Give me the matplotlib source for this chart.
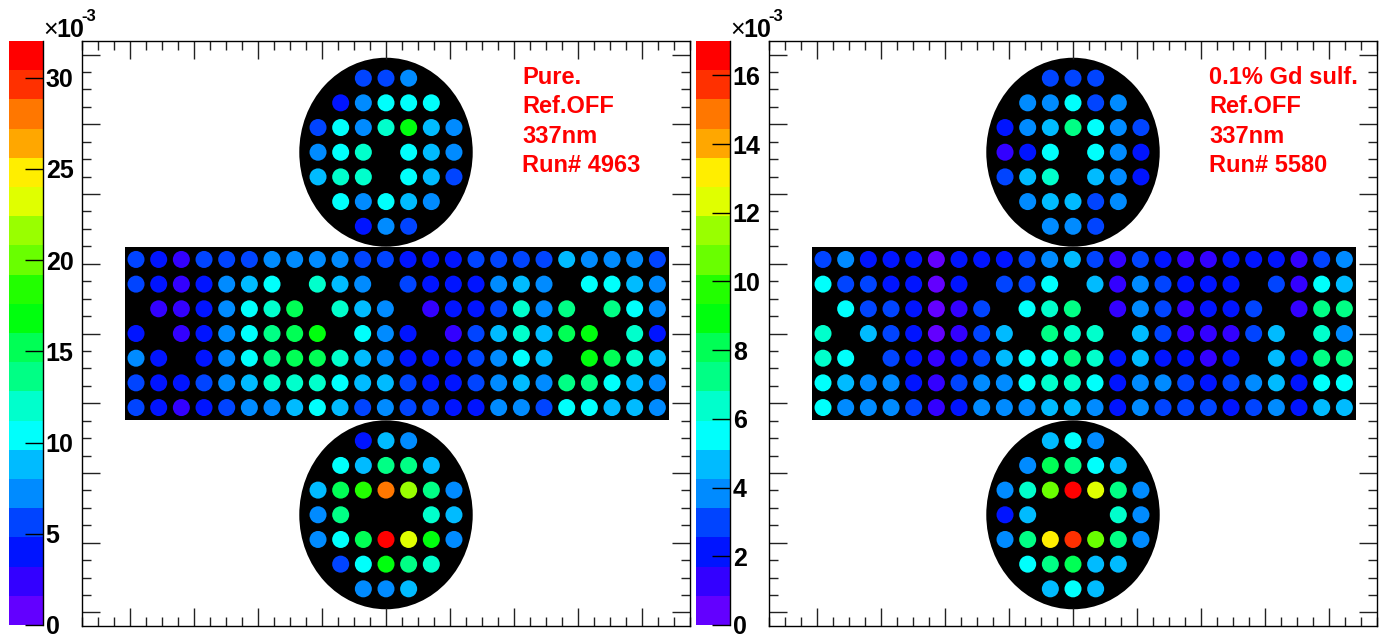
import numpy as np
import matplotlib
matplotlib.use('Agg')
import matplotlib.pyplot as plt
from matplotlib.colors import ListedColormap, BoundaryNorm
from matplotlib.patches import Circle, Rectangle
from matplotlib.ticker import MultipleLocator
import colorsys

plt.rcParams['font.family'] = ['Liberation Sans', 'DejaVu Sans']
nan = np.nan

# ---------------- DATA (units of 1e-3) ----------------
# Left panel: Pure, Run# 4963
left_zmax = 32.0
left_cbar_ticks = [0, 5, 10, 15, 20, 25, 30]
left_labels = ["Pure.", "Ref.OFF", "337nm", "Run# 4963"]

left_top = [
    [nan, nan, 5.6, 5.6, 7.2, nan, nan],
    [nan, 4.0, 7.2, 10.3, 10.3, 10.3, nan],
    [5.6, 10.3, 7.2, 11.9, 16.7, 8.7, 7.2],
    [7.2, 10.3, 11.9, nan, 10.3, 8.7, 7.2],
    [8.7, 11.9, 11.9, nan, 10.3, 8.7, 5.6],
    [nan, 10.3, 7.2, 10.3, 8.7, 7.2, nan],
    [nan, nan, 4.0, 7.2, 5.6, nan, nan],
]
left_barrel = [
    [5.6, 4.0, 2.4, 5.6, 5.6, 5.6, 7.2, 7.2, 7.2, 7.2, 5.6, 5.6, 4.0, 4.0, 4.0, 5.6, 5.6, 5.6, 5.6, 8.7, 7.2, 7.2, 7.2, 5.6],
    [5.6, 4.0, 2.4, 4.0, 7.2, 8.7, 10.3, nan, 11.9, 8.7, 7.2, nan, 5.6, 4.0, 4.0, 4.0, 7.2, 8.7, 7.2, nan, 10.3, 10.3, 8.7, 7.2],
    [nan, 2.4, 2.4, 4.0, 7.2, 10.3, 11.9, 15.1, nan, 11.9, 8.7, 7.2, nan, 2.4, 4.0, 4.0, 5.6, 11.9, 7.2, 13.5, nan, 13.5, 10.3, 7.2],
    [4.0, nan, 2.4, 4.0, 7.2, 10.3, 13.5, 15.1, 16.7, nan, 10.3, 7.2, 4.0, nan, 2.4, 5.6, 8.7, 11.9, 8.7, 15.1, 16.7, nan, 11.9, 4.0],
    [7.2, 4.0, nan, 4.0, 7.2, 10.3, 13.5, 15.1, 15.1, 11.9, 8.7, 7.2, 4.0, 4.0, 4.0, 5.6, 7.2, 10.3, 8.7, nan, 16.7, 15.1, 11.9, 8.7],
    [5.6, 4.0, 4.0, 5.6, 7.2, 8.7, 11.9, 11.9, 11.9, 10.3, 8.7, 8.7, 5.6, 4.0, 4.0, 5.6, 7.2, 8.7, 7.2, 13.5, 13.5, 10.3, 8.7, 7.2],
    [5.6, 4.0, 2.4, 4.0, 5.6, 7.2, 7.2, 8.7, 10.3, 8.7, 5.6, 7.2, 5.6, 5.6, 4.0, 4.0, 7.2, 7.2, 5.6, 10.3, 10.3, 8.7, 8.7, 7.2],
]
left_bottom = [
    [nan, nan, 4.0, 8.7, 7.2, nan, nan],
    [nan, 10.3, 8.7, 13.5, 13.5, 8.7, nan],
    [8.7, 15.1, 18.3, 27.8, 21.5, 13.5, 7.2],
    [7.2, 13.5, nan, nan, nan, 11.9, 8.7],
    [7.2, 10.3, 15.1, 31.0, 23.1, 16.7, 7.2],
    [nan, 5.6, 10.3, 16.7, 13.5, 11.9, nan],
    [nan, nan, 7.2, 7.2, 8.7, nan, nan],
]

# Right panel: 0.1% Gd sulf., Run# 5580
right_zmax = 17.0
right_cbar_ticks = [0, 2, 4, 6, 8, 10, 12, 14, 16]
right_labels = ["0.1% Gd sulf.", "Ref.OFF", "337nm", "Run# 5580"]

right_top = [
    [nan, nan, 2.9, 2.9, 2.9, nan, nan],
    [nan, 3.7, 3.7, 5.4, 2.9, 3.7, nan],
    [2.1, 3.7, 4.6, 7.1, 5.4, 3.7, 2.9],
    [1.2, 2.1, 5.4, nan, 5.4, 3.7, 2.1],
    [2.9, 4.6, 6.2, nan, 4.6, 3.7, 2.1],
    [nan, 3.7, 4.6, 4.6, 2.9, 3.7, nan],
    [nan, nan, 3.7, 3.7, 2.9, nan, nan],
]
right_barrel = [
    [2.9, 3.7, 2.1, 2.1, 2.1, 0.4, 2.1, 2.1, 2.1, 2.9, 3.7, 4.6, 2.9, 1.2, 2.9, 2.1, 1.2, 1.2, 2.1, 2.1, 2.1, 1.2, 2.9, 3.7],
    [5.4, 2.9, 2.9, 2.1, 2.1, 0.4, 2.1, nan, 2.9, 2.9, 5.4, nan, 4.6, 1.2, 3.7, 2.9, 2.1, 2.1, 2.1, nan, 2.9, 1.2, 5.4, 4.6],
    [nan, 5.4, 2.9, 2.9, 2.1, 0.4, 1.2, 2.9, nan, 5.4, 6.2, 7.1, nan, 1.2, 3.7, 2.9, 1.2, 2.1, 2.1, 2.9, nan, 1.2, 7.1, 7.1],
    [6.2, nan, 4.6, 2.9, 2.1, 0.4, 1.2, 2.9, 4.6, nan, 7.1, 6.2, 6.2, nan, 4.6, 2.9, 1.2, 1.2, 1.2, 2.9, 4.6, nan, 6.2, 3.7],
    [6.2, 5.4, nan, 2.9, 2.1, 1.2, 2.1, 2.9, 4.6, 5.4, 5.4, 7.1, 6.2, 2.1, 4.6, 2.1, 2.1, 1.2, 2.1, nan, 4.6, 2.1, 7.1, 7.1],
    [5.4, 4.6, 3.7, 3.7, 2.1, 1.2, 2.9, 3.7, 3.7, 5.4, 6.2, 6.2, 5.4, 2.1, 3.7, 3.7, 2.9, 2.1, 2.9, 3.7, 4.6, 2.1, 5.4, 5.4],
    [5.4, 3.7, 3.7, 3.7, 2.9, 1.2, 2.1, 3.7, 3.7, 3.7, 4.6, 4.6, 3.7, 2.1, 3.7, 2.9, 2.9, 2.9, 2.1, 2.9, 3.7, 2.1, 4.6, 4.6],
]
right_bottom = [
    [nan, nan, 4.6, 5.4, 3.7, nan, nan],
    [nan, 3.7, 7.9, 7.1, 5.4, 4.6, nan],
    [3.7, 6.2, 10.4, 16.5, 12.0, 7.1, 3.7],
    [2.1, 4.6, nan, nan, nan, 6.2, 3.7],
    [3.7, 7.1, 12.9, 15.4, 10.4, 7.1, 3.7],
    [nan, 5.4, 7.1, 7.9, 4.6, 4.6, nan],
    [nan, nan, 4.6, 5.4, 4.6, nan, nan],
]

# ---------------- STYLE / GEOMETRY ----------------
N_LEVELS = 20
W, H = 1386, 642
PITCH = 0.354
CAP_R = 1.355
CAP_Y = 2.60
RECT_X0, RECT_W = -4.083, 8.5
RECT_H = 2.49


def root_palette(n):
    cols = []
    for j in range(n):
        idx = int((j + 0.99) * 50 / n)
        hue = 280 - (idx + 1) * 5.6
        r, g, b = colorsys.hls_to_rgb((hue % 360) / 360.0, 0.5, 1.0)
        cols.append((r, g, b))
    return ListedColormap(cols)


cmap = root_palette(N_LEVELS)
fig = plt.figure(figsize=(W / 100, H / 100), dpi=100)


def grid_points(vals, yc, xfn):
    xs, ys, cs = [], [], []
    arr = np.array(vals, dtype=float)
    nr, nc = arr.shape
    for r in range(nr):
        for c in range(nc):
            xs.append(xfn(c, nc))
            ys.append(yc + ((nr - 1) / 2 - r) * PITCH)
            cs.append(arr[r, c])
    return xs, ys, cs


def draw_panel(x0, zmax, cticks, top, barrel, bottom, labels):
    norm = BoundaryNorm(np.linspace(0, zmax, N_LEVELS + 1), N_LEVELS)
    ax = fig.add_axes([(x0 + 82) / W, (H - 626) / H, 608 / W, 585 / H])
    ax.set_xlim(-4.75, 4.75)
    ax.set_ylim(-4.195, 4.195)
    for ln in (ax.xaxis, ax.yaxis):
        ln.set_major_locator(MultipleLocator(1))
        ln.set_minor_locator(MultipleLocator(0.25))
    ax.tick_params(which='both', direction='in', top=True, right=True,
                   labelbottom=False, labelleft=False, width=1, color='#222222')
    ax.tick_params(which='major', length=13)
    ax.tick_params(which='minor', length=6.3)
    for s in ax.spines.values():
        s.set_linewidth(1)

    ax.add_patch(Circle((0, CAP_Y), CAP_R, fc='black', ec='none', zorder=1))
    ax.add_patch(Circle((0, -CAP_Y), CAP_R, fc='black', ec='none', zorder=1))
    ax.add_patch(Rectangle((RECT_X0, -RECT_H / 2), RECT_W, RECT_H,
                           fc='black', ec='none', zorder=1))

    cap_x = lambda c, nc: (c - (nc - 1) / 2) * PITCH
    bar_x = lambda c, nc: RECT_X0 + (c + 0.5) * RECT_W / nc
    allx, ally, allc = [], [], []
    for vals, yc, fn in ((top, CAP_Y, cap_x), (barrel, 0.0, bar_x), (bottom, -CAP_Y, cap_x)):
        xs, ys, cs = grid_points(vals, yc, fn)
        allx += xs; ally += ys; allc += cs
    ax.scatter(allx, ally, c=allc, cmap=cmap, norm=norm, s=150,
               edgecolors='none', zorder=3, plotnonfinite=False)

    for i, t in enumerate(labels):
        fig.text((x0 + 522) / W, 1 - (83.5 + i * 29.6) / H, t, color='#ff0000',
                 fontsize=17, fontweight='bold', va='baseline', ha='left')

    # colour scale
    cax = fig.add_axes([(x0 + 9) / W, (H - 625) / H, 34 / W, 584 / H])
    bounds = np.linspace(0, zmax, N_LEVELS + 1)
    mids = (bounds[:-1] + bounds[1:]) / 2
    cax.pcolormesh([0, 1], bounds, mids[:, None], cmap=cmap, norm=norm)
    cax.set_xlim(0, 1)
    cax.set_ylim(0, zmax)
    cax.set_xticks([])
    cax.yaxis.tick_right()
    cax.set_yticks(cticks)
    cax.set_yticklabels([str(t) for t in cticks], fontsize=18, fontweight='bold')
    cax.tick_params(axis='y', direction='in', length=13, width=1, pad=2)
    for k in ('left', 'top', 'bottom'):
        cax.spines[k].set_visible(False)
    cax.spines['right'].set_linewidth(1)

    fig.text((x0 + 43) / W, 1 - 37 / H, '\u00d7', fontsize=18,
             va='baseline', ha='left')
    fig.text((x0 + 56) / W, 1 - 37 / H, '10', fontsize=18, fontweight='bold',
             va='baseline', ha='left')
    fig.text((x0 + 81) / W, 1 - 21 / H, '-3', fontsize=12, fontweight='bold',
             va='baseline', ha='left')


draw_panel(0, left_zmax, left_cbar_ticks, left_top, left_barrel, left_bottom, left_labels)
draw_panel(687, right_zmax, right_cbar_ticks, right_top, right_barrel, right_bottom, right_labels)

fig.savefig('out.png', dpi=100)
